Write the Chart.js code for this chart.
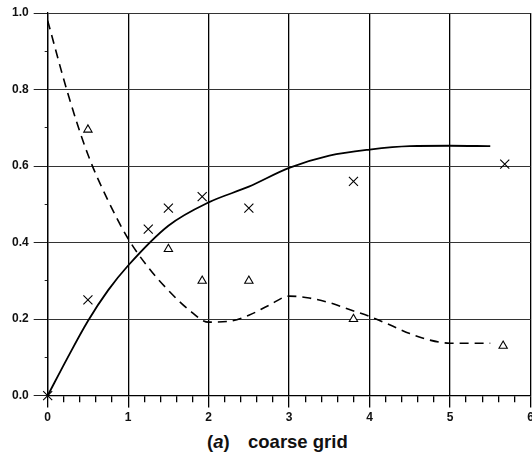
<!DOCTYPE html>
<html>
<head>
<meta charset="utf-8">
<script src="https://cdn.jsdelivr.net/npm/chart.js@4.4.0/dist/chart.umd.min.js"></script>
<style>
  html, body { margin: 0; padding: 0; background: #fff; overflow: hidden; }
  #wrap { position: relative; width: 538px; height: 428px; }
  #caption { position: absolute; left: 207px; top: 431px; font-family: "Liberation Sans", Arial, sans-serif;
             font-weight: bold; font-size: 18.5px; color: #111; white-space: pre; }
  #caption .lbl { display: inline-block; width: 41px; }
</style>
</head>
<body>
<div id="wrap"><canvas id="chart"></canvas></div>
<div id="caption"><span class="lbl">(<i>a</i>)</span>coarse grid</div>
<script>
// solid curve
var solidX = [0, 0.25, 0.5, 0.75, 1, 1.5, 2, 2.5, 3, 3.5, 4, 4.5, 5, 5.5];
var solidY = [0, 0.1, 0.195, 0.275, 0.34, 0.444, 0.505, 0.546, 0.595, 0.627, 0.643, 0.652, 0.653, 0.652];
// dashed curve
var dashX = [0, 0.25, 0.5, 0.75, 1, 1.25, 1.5, 1.75, 2, 2.25, 2.5, 2.75, 3, 3.25, 3.5, 3.75, 4, 4.25, 4.5, 4.75, 5, 5.25, 5.5];
var dashY = [0.98, 0.79, 0.63, 0.51, 0.41, 0.335, 0.275, 0.225, 0.192, 0.194, 0.21, 0.236, 0.26, 0.255, 0.243, 0.225, 0.207, 0.185, 0.162, 0.145, 0.137, 0.137, 0.137];
// measured points
var crossX = [0, 0.5, 1.25, 1.5, 1.92, 2.5, 3.8, 5.68];
var crossY = [0, 0.25, 0.435, 0.49, 0.52, 0.49, 0.56, 0.605];
var triX = [0.5, 1.5, 1.92, 2.5, 3.8, 5.66];
var triY = [0.695, 0.383, 0.30, 0.30, 0.20, 0.13];

function pts(xs, ys) {
  var out = [];
  for (var i = 0; i < xs.length; i++) out.push({x: xs[i], y: ys[i]});
  return out;
}
function isMult(v, step) {
  var q = v / step;
  return Math.abs(q - Math.round(q)) < 1e-6;
}

var tickFont = {family: '"Liberation Sans", Arial, sans-serif', size: 12, weight: 'bold'};

var ctx = document.getElementById('chart').getContext('2d');
var chart = new Chart(ctx, {
  type: 'scatter',
  data: {
    datasets: [{
      data: pts(solidX, solidY),
      showLine: true,
      borderColor: '#000',
      borderWidth: 1.8,
      pointRadius: 0,
      cubicInterpolationMode: 'monotone'
    }, {
      data: pts(dashX, dashY),
      showLine: true,
      borderColor: '#000',
      borderWidth: 1.6,
      borderDash: [9, 6],
      pointRadius: 0,
      cubicInterpolationMode: 'monotone'
    }, {
      data: pts(crossX, crossY),
      pointStyle: 'crossRot',
      pointRadius: 6.4,
      pointBorderWidth: 1.1,
      borderColor: '#000',
      clip: false
    }, {
      data: pts(triX, triY),
      pointStyle: 'triangle',
      pointRadius: 4.8,
      pointBorderWidth: 1.1,
      borderColor: '#000',
      backgroundColor: '#fff',
      clip: false
    }]
  },
  options: {
    responsive: true,
    maintainAspectRatio: false,
    animation: false,
    layout: {padding: {top: 13, left: 7, right: 0, bottom: 0}},
    plugins: {legend: {display: false}, tooltip: {enabled: false}},
    scales: {
      x: {
        type: 'linear',
        min: 0, max: 6,
        ticks: {
          stepSize: 0.2,
          autoSkip: false,
          maxRotation: 0,
          padding: 3,
          color: '#111',
          font: tickFont,
          callback: function(v) { return isMult(v, 1) ? String(Math.round(v)) : ''; }
        },
        grid: {
          color: function(c) { return isMult(c.tick.value, 1) ? '#000' : 'rgba(0,0,0,0)'; },
          lineWidth: 1.3,
          tickColor: '#000',
          tickLength: 12,
          tickBorderDash: function(c) { return isMult(c.tick.value, 1) ? [] : [6, 30]; }
        },
        border: {color: '#000', width: 1.3}
      },
      y: {
        type: 'linear',
        min: 0, max: 1,
        ticks: {
          stepSize: 0.1,
          autoSkip: false,
          padding: 5,
          color: '#111',
          font: tickFont,
          callback: function(v) { return isMult(v, 0.2) ? v.toFixed(1) : ''; }
        },
        grid: {
          color: function(c) { return isMult(c.tick.value, 0.2) ? '#333' : 'rgba(0,0,0,0)'; },
          lineWidth: 1,
          tickColor: '#222',
          tickLength: 14,
          tickBorderDash: function(c) { return isMult(c.tick.value, 0.2) ? [] : [0, 11, 3]; }
        },
        border: {color: '#000', width: 1.3}
      }
    }
  }
});
</script>
</body>
</html>
